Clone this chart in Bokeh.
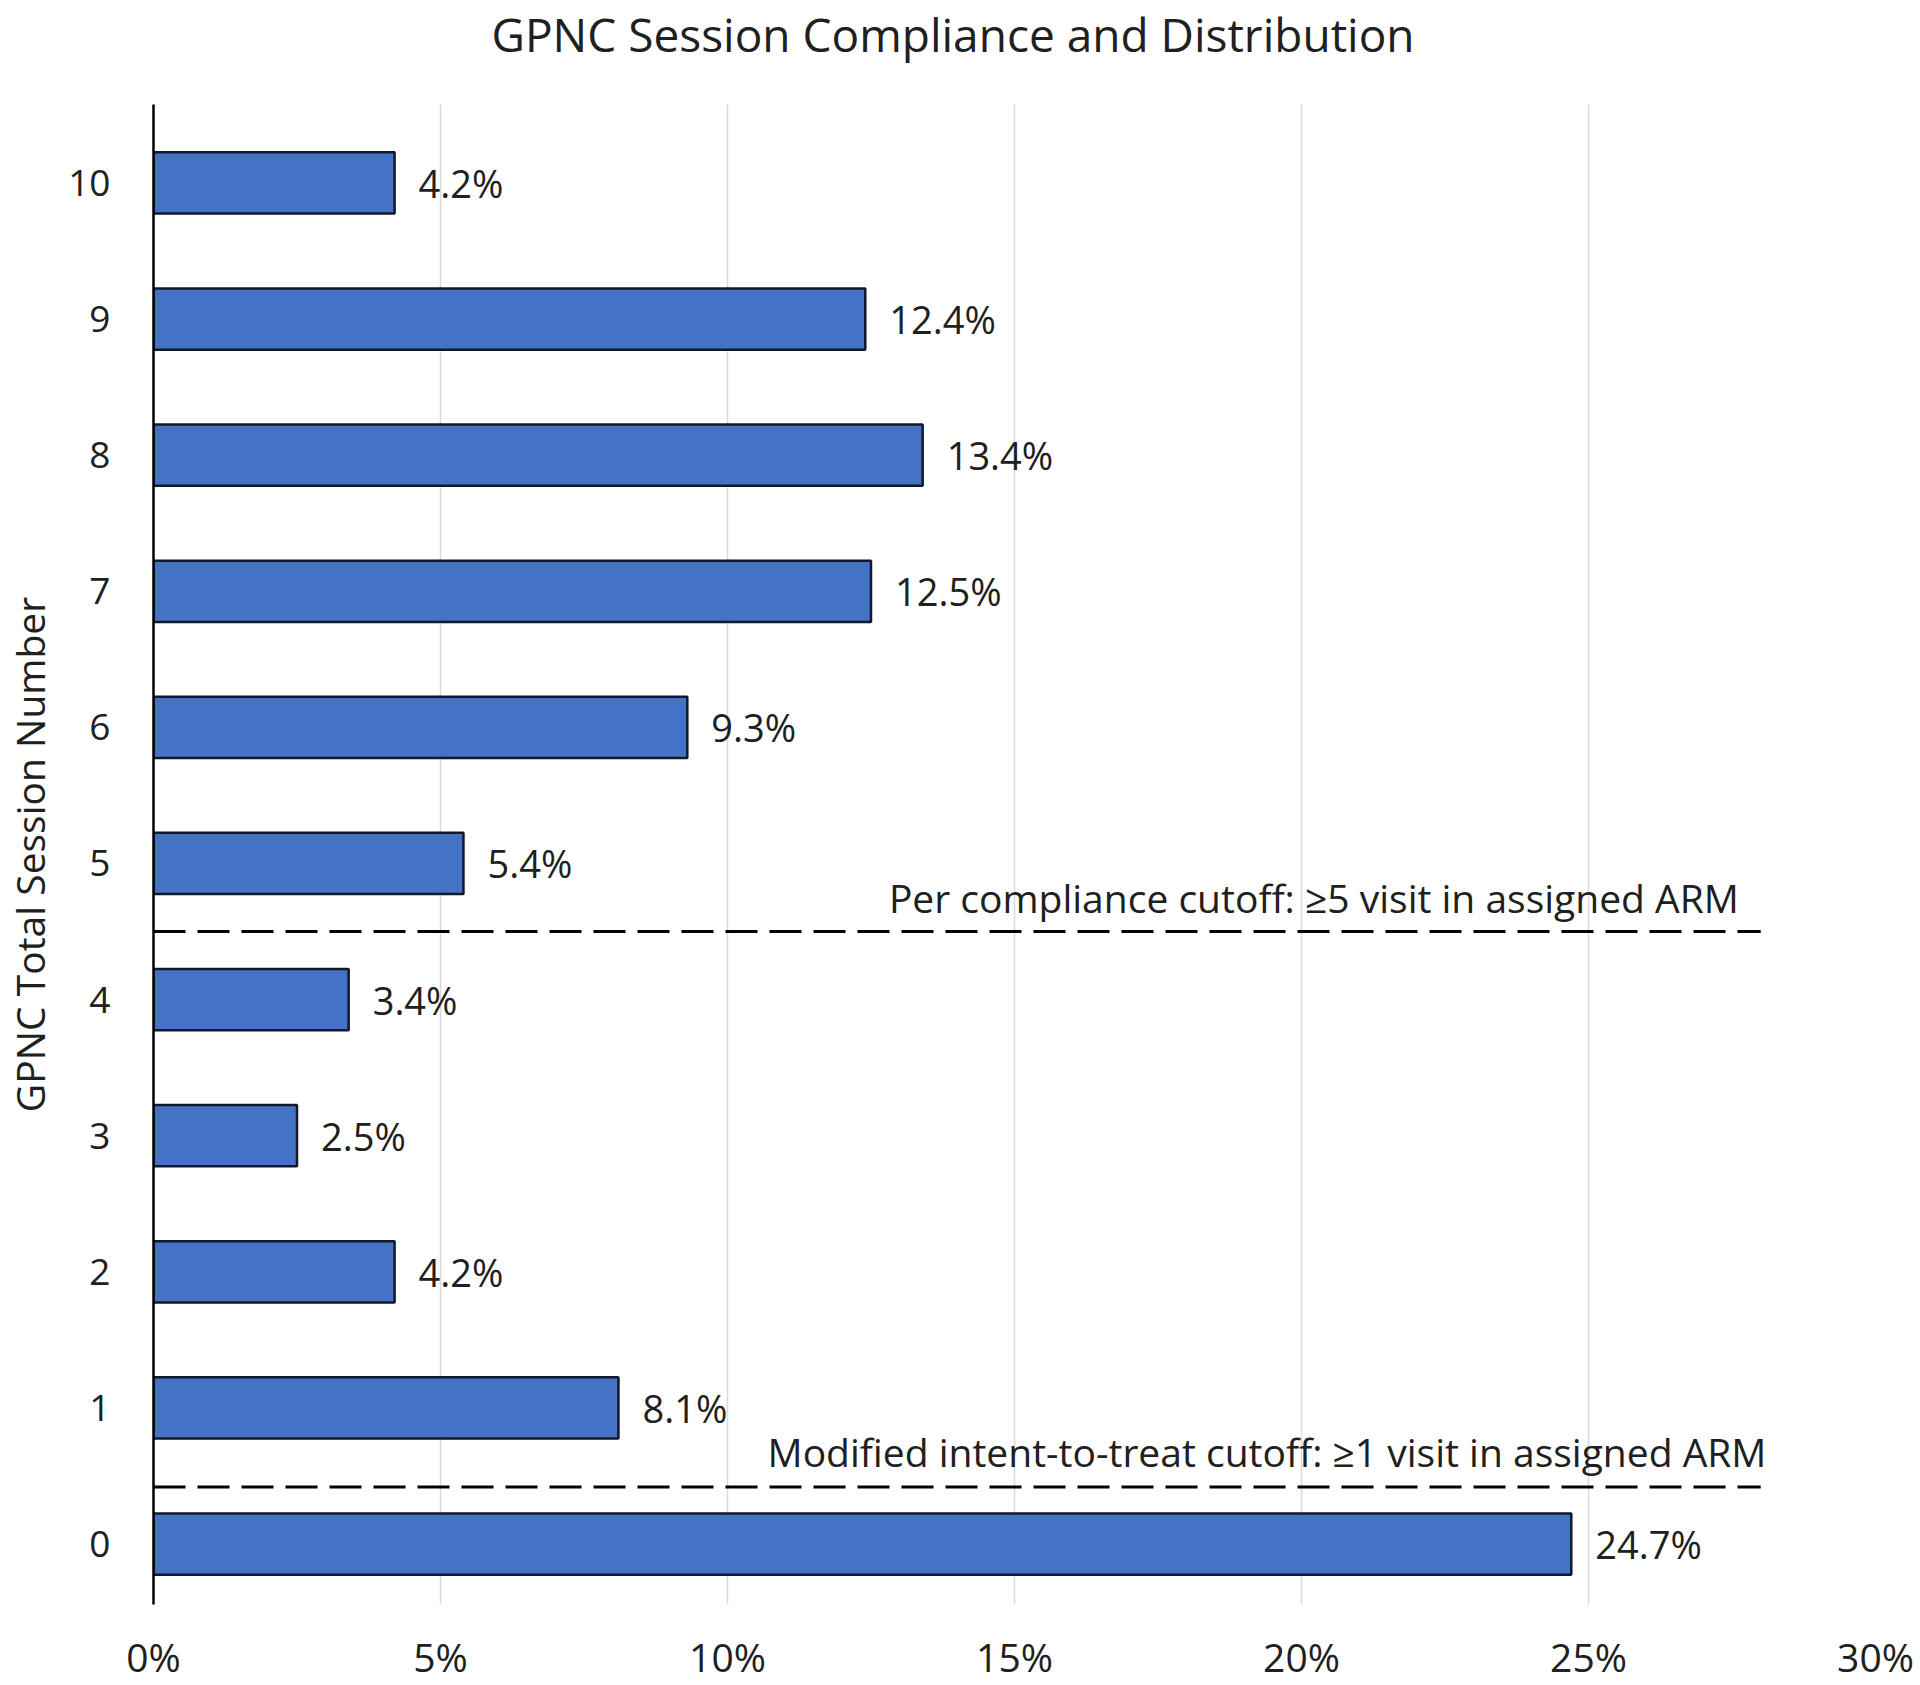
from bokeh.plotting import figure
from bokeh.models import ColumnDataSource, FixedTicker, PrintfTickFormatter, Range1d, Title
from bokeh.core.properties import value
from bokeh.embed import file_html
from bokeh.resources import INLINE

# ---- data ----
title_text = "GPNC Session Compliance and Distribution"
sessions = [0, 1, 2, 3, 4, 5, 6, 7, 8, 9, 10]
percents = [24.7, 8.1, 4.2, 2.5, 3.4, 5.4, 9.3, 12.5, 13.4, 12.4, 4.2]
x_ticks = [0, 5, 10, 15, 20, 25, 30]
cutoff_names = ["Per compliance cutoff: \u22655 visit in assigned ARM",
                "Modified intent-to-treat cutoff: \u22651 visit in assigned ARM"]
cutoff_positions = [4.5, 0.42]
cutoff_extent = 28

FONT = "Open Sans"
TXT = "#202020"

src = ColumnDataSource(dict(y=sessions, x=percents,
                            label=[f"{v:.1f}%" for v in percents]))

p = figure(width=1920, height=1685, output_backend="svg", toolbar_location=None,
           x_range=Range1d(0, 30), y_range=Range1d(-0.444, 10.576),
           min_border_left=153, min_border_right=45,
           min_border_top=103, min_border_bottom=80)
p.outline_line_color = None
p.background_fill_color = "white"
p.border_fill_color = "white"

# spacer panel between frame and title, so the title sits near the top edge
spacer = Title(text=" ", text_font_size="1px", standoff=37)
p.add_layout(spacer, "above")
main_title = Title(text=title_text, align="left", offset=338, standoff=0,
                   text_font=FONT, text_font_size="46px",
                   text_font_style="normal", text_color=TXT)
p.add_layout(main_title, "above")

p.xgrid.ticker = FixedTicker(ticks=x_ticks)
p.xgrid.grid_line_color = "#d9d9d9"
p.xgrid.grid_line_width = 1.5
p.ygrid.grid_line_color = None

# bars
p.hbar(y="y", right="x", left=0, height=0.45, source=src,
       fill_color="#4472C4", line_color="#10182b", line_width=2.5)

# value labels
p.text(x="x", y="y", text="label", source=src, x_offset=24,
       text_baseline="middle", text_align="left",
       text_font=value(FONT), text_font_size="38px", text_color=TXT)

# cutoff lines
p.segment(x0=[0, 0], x1=[cutoff_extent, cutoff_extent],
          y0=cutoff_positions, y1=cutoff_positions,
          line_color="black", line_width=3, line_dash="32 12")
p.text(x=[27.62, 28.1], y=[cutoff_positions[0] + 0.25, cutoff_positions[1] + 0.26],
       text=cutoff_names, text_align="right", text_baseline="middle",
       text_font=value(FONT), text_font_size="39px", text_color=TXT)

# axes
xa = p.xaxis[0]
xa.ticker = FixedTicker(ticks=x_ticks)
xa.formatter = PrintfTickFormatter(format="%d%%")
xa.axis_line_color = None
xa.major_tick_line_color = None
xa.minor_tick_line_color = None
xa.major_tick_out = 0
xa.major_tick_in = 0
xa.major_label_standoff = 25
xa.major_label_text_font = FONT
xa.major_label_text_font_size = "39px"
xa.major_label_text_color = TXT

ya = p.yaxis[0]
ya.ticker = FixedTicker(ticks=sessions)
ya.axis_line_color = "black"
ya.axis_line_width = 2.5
ya.major_tick_line_color = None
ya.minor_tick_line_color = None
ya.major_tick_out = 0
ya.major_tick_in = 0
ya.major_label_standoff = 43
ya.major_label_text_font = FONT
ya.major_label_text_font_size = "37px"
ya.major_label_text_color = TXT
ya.axis_label = "GPNC Total Session Number"
ya.axis_label_text_font = FONT
ya.axis_label_text_font_size = "39px"
ya.axis_label_text_font_style = "normal"
ya.axis_label_text_color = TXT
ya.axis_label_standoff = 9

open("out.html", "w").write(file_html(p, INLINE))
